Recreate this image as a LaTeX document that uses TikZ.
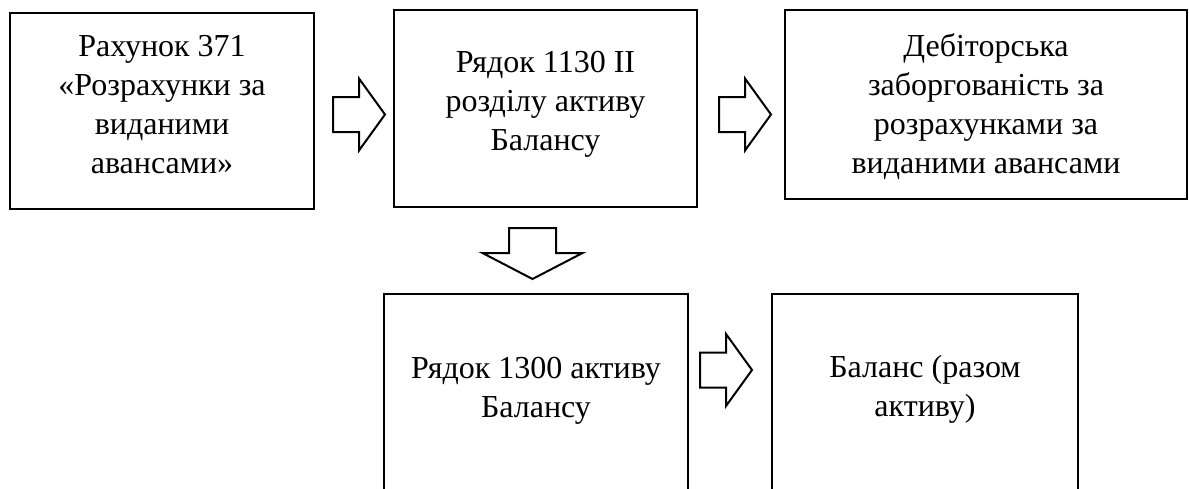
\documentclass[tikz,border=0pt]{standalone}
\usepackage{fontspec}
\setmainfont{Liberation Serif}
\usetikzlibrary{calc}
\tikzset{
  x=1pt, y=-1pt,
  box/.style={draw, line width=2.5pt, inner sep=0pt},
  txt/.style={align=center, inner sep=0pt, font=\fontsize{32}{39}\selectfont},
  blockarrow/.style={draw, line width=2pt, fill=white, line join=miter},
}
% right-pointing block arrow: shaft from #1 to the head base, tip at the far end
\newcommand\rightblock[1]{%
  \draw[blockarrow] (#1) ++(0,-17.5) -- ++(26,0) -- ++(0,-18.5) -- ++(26,36)
    -- ++(-26,36) -- ++(0,-18.5) -- ++(-26,0) -- cycle;}
% downward block arrow
\newcommand\downblock[1]{%
  \draw[blockarrow] (#1) ++(-23.5,0) -- ++(0,25) -- ++(-26.5,0) -- ++(50,26)
    -- ++(50,-26) -- ++(-26.5,0) -- ++(0,-25) -- cycle;}
\begin{document}
\begin{tikzpicture}
\useasboundingbox (0,0) rectangle (1189,488);
\clip (0,0) rectangle (1189,488);

% boxes (the lower pair runs past the bottom edge)
\node[box, minimum width=304pt, minimum height=196pt] (b1) at (162,111) {};
\node[box, minimum width=303pt, minimum height=197pt] (b2) at (545.5,108.5) {};
\node[box, minimum width=402pt, minimum height=189pt] (b3) at (986,104.5) {};
\node[box, minimum width=304pt, minimum height=260pt] (b4) at (536,424) {};
\node[box, minimum width=306pt, minimum height=260pt] (b5) at (925,424) {};

% texts
\node[txt] (t1) at (162,105) {Рахунок 371\\«Розрахунки за\\виданими\\авансами»};
\node[txt] (t2) at (545.5,104) {Рядок 1130 II\\розділу активу\\Балансу};
\node[txt] (t3) at (986,107) {Дебіторська\\заборгованість за\\розрахунками за\\виданими авансами};
\node[txt] (t4) at (536,391) {Рядок 1300 активу\\Балансу};
\node[txt] (t5) at (925,389) {Баланс (разом\\активу)};

% arrows
\coordinate (a1) at (333,114.5);
\coordinate (a2) at (719,114.5);
\coordinate (a3) at (700,370);
\coordinate (a4) at (532.5,228);
\rightblock{a1}
\rightblock{a2}
\rightblock{a3}
\downblock{a4}
\end{tikzpicture}
\end{document}
